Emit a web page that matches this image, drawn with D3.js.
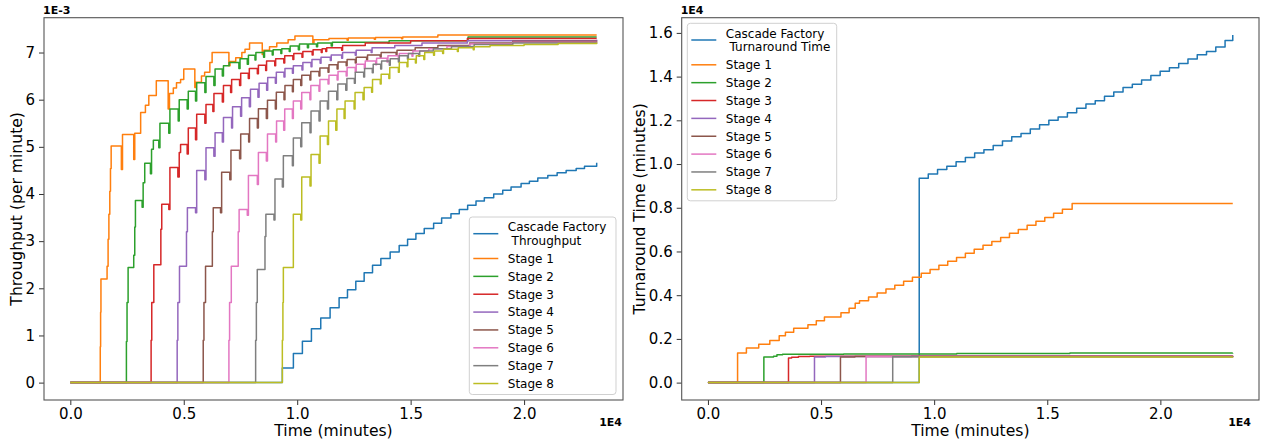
<!DOCTYPE html>
<html>
<head>
<meta charset="utf-8">
<script src="https://cdn.jsdelivr.net/npm/d3@7/dist/d3.min.js"></script>
<style>
  body { margin: 0; background: #fff; }
  svg { font-family: "DejaVu Sans", sans-serif; }
</style>
</head>
<body>
<svg id="chart" width="1263" height="444"></svg>
<script>
// Throughput values are in units of 1E-3 jobs per minute, time in minutes.
const cascadeThroughput = [[0,0],[9345,0.31],[9832,0.62],[10229,0.88],[10627,1.14],[11038,1.37],[11450,1.59],[11847,1.8],[12216,1.97],[12583,2.15],[12951,2.33],[13320,2.49],[13687,2.63],[14097,2.77],[14495,2.91],[14865,3.04],[15232,3.16],[15599,3.27],[16013,3.38],[16366,3.49],[16777,3.58],[17144,3.67],[17513,3.76],[17881,3.85],[18248,3.92],[18661,4.0],[19059,4.08],[19426,4.15],[19868,4.22],[20234,4.27],[20605,4.34],[21046,4.39],[21457,4.45],[21854,4.5],[22296,4.54],[22663,4.59],[23200,4.66]];
const stage1Throughput = [[0,0],[1320,0.76],[1335,1.49],[1350,2.2],[1620,2.47],[1665,3.04],[1700,3.57],[1740,4.06],[1770,4.54],[1800,5.02],[2250,4.52],[2300,5.26],[2795,4.73],[2840,5.29],[3100,5.73],[3310,5.88],[3460,6.09],[3790,6.4],[4313,5.8],[4370,6.13],[4540,6.25],[4680,6.36],[4860,6.43],[5000,6.65],[5488,6.26],[5530,6.37],[5780,6.5],[5920,6.58],[6150,6.79],[6250,7.0],[6990,6.72],[7040,6.81],[7290,6.89],[7560,7.0],[7700,7.07],[7900,7.2],[8460,6.96],[8520,7.05],[8780,7.12],[9100,7.2],[9600,7.27],[9900,7.35],[10690,7.2],[10740,7.27],[11400,7.3],[12200,7.26],[12250,7.31],[13400,7.28],[13450,7.32],[14600,7.29],[14650,7.33],[16200,7.37],[23200,7.37]];
const stage2Throughput = [[0,0],[2472,0.87],[2500,1.7],[2547,2.44],[2795,2.7],[2840,3.3],[2870,3.86],[3165,3.72],[3210,4.24],[3280,4.65],[3532,4.43],[3580,4.95],[3660,5.14],[3900,4.98],[3950,5.5],[4340,5.29],[4390,5.8],[4755,5.55],[4800,6.0],[5150,5.8],[5200,6.18],[5519,5.97],[5570,6.36],[5930,6.15],[5980,6.49],[6327,6.3],[6380,6.65],[6700,6.5],[6750,6.72],[7000,6.79],[7430,6.66],[7480,6.87],[7800,6.75],[7850,6.94],[8140,6.84],[8180,7.0],[8520,6.9],[8560,7.03],[8900,6.95],[8940,7.06],[9280,6.98],[9320,7.08],[9650,7.02],[9690,7.14],[10050,7.06],[10100,7.18],[10450,7.1],[10500,7.18],[10850,7.12],[10900,7.2],[11500,7.14],[11550,7.22],[14000,7.2],[14050,7.25],[17530,7.33],[23200,7.33]];
const stage3Throughput = [[0,0],[3561,0.9],[3590,1.7],[3680,2.5],[3990,3.25],[4030,3.78],[4342,3.67],[4390,4.56],[4740,4.36],[4800,4.88],[4860,5.05],[5150,4.85],[5200,5.4],[5519,5.15],[5570,5.69],[5930,5.5],[5980,5.9],[6283,5.75],[6330,6.13],[6700,5.95],[6750,6.3],[7065,6.15],[7110,6.43],[7460,6.3],[7510,6.56],[7845,6.45],[7890,6.66],[8243,6.55],[8290,6.73],[8610,6.62],[8650,6.82],[9010,6.72],[9050,6.87],[9410,6.78],[9450,6.93],[9810,6.85],[9850,6.98],[10210,6.9],[10250,7.02],[10660,6.95],[10700,7.06],[11060,7.0],[11100,7.08],[11260,7.02],[11300,7.1],[11960,7.05],[12000,7.15],[13000,7.2],[15000,7.25],[17500,7.3],[23200,7.3]];
const stage4Throughput = [[0,0],[4710,0.9],[4740,1.7],[4812,2.47],[5120,3.2],[5160,3.71],[5519,3.6],[5570,4.5],[5930,4.3],[5980,4.98],[6327,4.8],[6380,5.3],[6700,5.1],[6750,5.62],[7108,5.4],[7150,5.85],[7505,5.65],[7550,6.04],[7890,5.85],[7940,6.22],[8270,6.05],[8320,6.35],[8653,6.2],[8700,6.47],[9037,6.35],[9080,6.58],[9418,6.48],[9460,6.66],[9790,6.56],[9830,6.72],[10210,6.63],[10250,6.79],[10610,6.7],[10650,6.85],[11010,6.77],[11050,6.9],[11460,6.83],[11500,6.95],[11960,6.88],[12000,7.0],[12560,6.94],[12600,7.05],[13260,7.0],[13300,7.1],[14300,7.15],[15500,7.2],[17500,7.25],[23200,7.27]];
const stage5Throughput = [[0,0],[5858,0.9],[5890,1.7],[5960,2.47],[6260,3.2],[6300,3.71],[6620,3.6],[6670,4.46],[7030,4.3],[7080,4.93],[7460,4.75],[7510,5.27],[7860,5.1],[7900,5.6],[8243,5.4],[8290,5.81],[8640,5.6],[8690,5.99],[9037,5.8],[9080,6.16],[9418,6.0],[9460,6.3],[9788,6.17],[9830,6.43],[10155,6.3],[10200,6.52],[10560,6.42],[10600,6.6],[10960,6.5],[11000,6.67],[11360,6.58],[11400,6.74],[11760,6.65],[11800,6.8],[12160,6.72],[12200,6.85],[12560,6.78],[12600,6.9],[13060,6.84],[13100,6.95],[13660,6.9],[13700,7.0],[14360,6.96],[14400,7.05],[15200,7.1],[16200,7.15],[17600,7.2],[19500,7.24],[23200,7.25]];
const stage6Throughput = [[0,0],[6990,0.9],[7020,1.7],[7095,2.47],[7400,3.2],[7440,3.67],[7800,3.55],[7850,4.39],[8243,4.2],[8290,4.88],[8640,4.7],[8690,5.27],[9050,5.1],[9090,5.55],[9404,5.35],[9450,5.8],[9788,5.6],[9830,5.97],[10155,5.8],[10200,6.15],[10560,6.0],[10600,6.3],[10960,6.18],[11000,6.43],[11360,6.33],[11400,6.52],[11760,6.42],[11800,6.6],[12160,6.5],[12200,6.68],[12560,6.58],[12600,6.75],[12960,6.66],[13000,6.82],[13460,6.74],[13500,6.88],[13960,6.8],[14000,6.93],[14460,6.86],[14500,6.98],[15060,6.92],[15100,7.03],[15800,7.08],[16600,7.13],[17600,7.18],[19500,7.22],[23200,7.23]];
const stage7Throughput = [[0,0],[8168,0.9],[8200,1.7],[8240,2.4],[8580,3.1],[8620,3.57],[8976,3.45],[9020,4.32],[9345,4.15],[9390,4.81],[9788,4.6],[9830,5.19],[10155,5.0],[10200,5.51],[10565,5.3],[10610,5.76],[10962,5.55],[11010,5.97],[11333,5.8],[11380,6.18],[11744,6.0],[11790,6.33],[12141,6.2],[12190,6.45],[12520,6.35],[12560,6.58],[12930,6.48],[12970,6.66],[13310,6.57],[13350,6.75],[13680,6.65],[13720,6.82],[14060,6.73],[14100,6.87],[14460,6.8],[14500,6.93],[14860,6.86],[14900,6.98],[15360,6.92],[15400,7.03],[16000,7.08],[16800,7.13],[17800,7.17],[19500,7.2],[23200,7.21]];
const stage8Throughput = [[0,0],[9345,0.9],[9370,1.7],[9390,2.44],[9830,3.57],[10155,3.45],[10200,4.36],[10565,4.17],[10610,4.84],[10962,4.65],[11010,5.23],[11333,5.05],[11380,5.55],[11700,5.35],[11750,5.8],[12067,5.6],[12110,5.97],[12508,5.8],[12550,6.15],[12900,6.0],[12950,6.26],[13280,6.16],[13320,6.43],[13660,6.33],[13700,6.54],[14040,6.45],[14080,6.68],[14460,6.58],[14500,6.79],[14840,6.7],[14880,6.86],[15210,6.78],[15250,6.93],[15580,6.85],[15620,7.0],[16010,6.94],[16050,7.03],[16410,6.98],[16450,7.07],[17060,7.02],[17100,7.1],[17760,7.06],[17800,7.12],[18500,7.15],[20000,7.17],[21500,7.19],[23200,7.21]];

// Turnaround values are in units of 1E4 minutes.
const cascadeTurnaround = [[0,0],[9340,0.935],[9740,0.955],[10150,0.975],[10560,0.99],[10970,1.01],[11380,1.03],[11790,1.05],[12200,1.065],[12610,1.085],[13020,1.105],[13430,1.125],[13840,1.14],[14250,1.16],[14660,1.18],[15070,1.2],[15480,1.215],[15890,1.235],[16300,1.255],[16710,1.275],[17120,1.29],[17530,1.31],[17940,1.33],[18350,1.35],[18760,1.365],[19170,1.385],[19580,1.405],[19990,1.425],[20400,1.44],[20810,1.46],[21220,1.48],[21630,1.5],[22040,1.515],[22450,1.535],[22860,1.565],[23200,1.59]];
const stage1Turnaround = [[0,0],[1310,0.135],[1700,0.158],[2245,0.176],[2735,0.193],[3150,0.214],[3425,0.231],[3790,0.249],[4420,0.265],[4790,0.283],[5150,0.3],[5880,0.32],[6240,0.34],[6510,0.363],[6700,0.375],[7100,0.392],[7480,0.41],[7870,0.428],[8260,0.446],[8650,0.464],[9040,0.482],[9430,0.5],[9820,0.518],[10210,0.537],[10600,0.555],[10990,0.573],[11380,0.592],[11770,0.61],[12160,0.628],[12550,0.646],[12940,0.664],[13330,0.683],[13720,0.7],[14110,0.72],[14500,0.738],[14890,0.756],[15280,0.775],[15670,0.793],[16100,0.82],[23200,0.82]];
const stage2Turnaround = [[0,0],[2472,0.117],[2900,0.121],[3050,0.127],[3300,0.13],[6000,0.131],[11000,0.133],[16000,0.135],[23200,0.136]];
const stage3Turnaround = [[0,0],[3561,0.113],[3700,0.116],[4000,0.119],[4500,0.121],[9000,0.122],[23200,0.123]];
const stage4Turnaround = [[0,0],[4710,0.117],[5200,0.119],[9000,0.121],[23200,0.122]];
const stage5Turnaround = [[0,0],[5858,0.117],[6500,0.119],[23200,0.121]];
const stage6Turnaround = [[0,0],[6990,0.12],[23200,0.121]];
const stage7Turnaround = [[0,0],[8168,0.118],[23200,0.119]];
const stage8Turnaround = [[0,0],[9340,0.117],[23200,0.118]];

const throughputLabels = [["Cascade Factory", " Throughput"], "Stage 1", "Stage 2", "Stage 3", "Stage 4", "Stage 5", "Stage 6", "Stage 7", "Stage 8"];
const turnaroundLabels = [["Cascade Factory", " Turnaround Time"], "Stage 1", "Stage 2", "Stage 3", "Stage 4", "Stage 5", "Stage 6", "Stage 7", "Stage 8"];

const timeTicks = [0, 5000, 10000, 15000, 20000];
const timeTickLabels = ["0.0", "0.5", "1.0", "1.5", "2.0"];
const throughputTicks = [0, 1, 2, 3, 4, 5, 6, 7];
const throughputTickLabels = ["0", "1", "2", "3", "4", "5", "6", "7"];
const turnaroundTicks = [0, 0.2, 0.4, 0.6, 0.8, 1.0, 1.2, 1.4, 1.6];
const turnaroundTickLabels = ["0.0", "0.2", "0.4", "0.6", "0.8", "1.0", "1.2", "1.4", "1.6"];

// matplotlib tab10
const colors = ["#1f77b4", "#ff7f0e", "#2ca02c", "#d62728", "#9467bd", "#8c564b", "#e377c2", "#7f7f7f", "#bcbd22"];

const svg = d3.select("#chart");

function padded(extent) {
    const span = extent[1] - extent[0];
    return [extent[0] - span * 0.05, extent[1] + span * 0.05];
}

function drawPanel(p) {
    const g = svg.append("g");
    const all = p.series.flat();

    const x = d3.scaleLinear()
        .domain(padded(d3.extent(all, d => d[0])))
        .range([p.left, p.right]);
    const y = d3.scaleLinear()
        .domain(padded([0, d3.max(all, d => d[1])]))
        .range([p.bottom, p.top]);

    const line = d3.line()
        .curve(d3.curveStepAfter)
        .x(d => x(d[0]))
        .y(d => y(d[1]));

    // Series lines
    p.series.forEach((s, i) => {
        g.append("path")
            .datum(s)
            .attr("d", line)
            .attr("fill", "none")
            .attr("stroke", colors[i])
            .attr("stroke-width", 1.5)
            .attr("stroke-linejoin", "round");
    });

    // Axes
    const xAxis = g.append("g")
        .attr("transform", `translate(0,${p.bottom})`)
        .call(d3.axisBottom(x).tickValues(timeTicks)
            .tickFormat((d, i) => timeTickLabels[i]).tickSize(5).tickPadding(3));
    const yAxis = g.append("g")
        .attr("transform", `translate(${p.left},0)`)
        .call(d3.axisLeft(y).tickValues(p.yTicks)
            .tickFormat((d, i) => p.yTickLabels[i]).tickSize(5).tickPadding(4));
    [xAxis, yAxis].forEach(a => {
        a.select(".domain").remove();
        a.selectAll("line").attr("stroke", "#333");
        a.selectAll("text").attr("fill", "#000").style("font-size", "15px")
            .style("font-family", "DejaVu Sans");
    });

    // Frame
    g.append("rect")
        .attr("x", p.left).attr("y", p.top)
        .attr("width", p.right - p.left).attr("height", p.bottom - p.top)
        .attr("fill", "none").attr("stroke", "#555").attr("stroke-width", 1.1);

    // Axis labels
    g.append("text")
        .attr("x", (p.left + p.right) / 2).attr("y", 436)
        .attr("text-anchor", "middle").style("font-size", "15.6px")
        .text("Time (minutes)");
    g.append("text")
        .attr("transform", `translate(${p.yLabelX},${(p.top + p.bottom) / 2}) rotate(-90)`)
        .attr("text-anchor", "middle").style("font-size", "15.6px")
        .text(p.yLabel);

    // Offset labels
    g.append("text")
        .attr("x", p.left - 1).attr("y", 14)
        .style("font-size", "11px").style("font-weight", "bold")
        .text(p.yOffset);
    g.append("text")
        .attr("x", p.xOffsetX).attr("y", 426)
        .attr("text-anchor", "end")
        .style("font-size", "11px").style("font-weight", "bold")
        .text("1E4");

    // Legend
    const lg = g.append("g").attr("transform", `translate(${p.legendX},${p.legendY})`);
    lg.append("rect")
        .attr("width", p.legendW).attr("height", 177.5)
        .attr("rx", 3)
        .attr("fill", "#fff").attr("fill-opacity", 0.8)
        .attr("stroke", "#d0d0d0").attr("stroke-width", 1);

    p.labels.forEach((lab, i) => {
        const lines = Array.isArray(lab) ? lab : [lab];
        const cy = i === 0 ? 16.7 : 41.5 + (i - 1) * 17.86;
        lg.append("line")
            .attr("x1", 4).attr("x2", 29)
            .attr("y1", cy).attr("y2", cy)
            .attr("stroke", colors[i]).attr("stroke-width", 1.5);
        lines.forEach((t, j) => {
            const ty = i === 0 ? 10 + j * 13.3 : cy;
            lg.append("text")
                .attr("x", 38.5).attr("y", ty).attr("dy", "0.36em")
                .style("font-size", "12px").style("white-space", "pre")
                .text(t);
        });
    });
}

drawPanel({
    series: [cascadeThroughput, stage1Throughput, stage2Throughput, stage3Throughput, stage4Throughput,
        stage5Throughput, stage6Throughput, stage7Throughput, stage8Throughput],
    left: 44, right: 623, top: 17.7, bottom: 400,
    yTicks: throughputTicks, yTickLabels: throughputTickLabels,
    yLabel: "Throughput (per minute)", yLabelX: 22,
    yOffset: "1E-3", xOffsetX: 622,
    labels: throughputLabels,
    legendX: 469.3, legendY: 217, legendW: 146.7
});

drawPanel({
    series: [cascadeTurnaround, stage1Turnaround, stage2Turnaround, stage3Turnaround, stage4Turnaround,
        stage5Turnaround, stage6Turnaround, stage7Turnaround, stage8Turnaround],
    left: 681.7, right: 1259, top: 17.7, bottom: 400,
    yTicks: turnaroundTicks, yTickLabels: turnaroundTickLabels,
    yLabel: "Turnaround Time (minutes)", yLabelX: 645,
    yOffset: "1E4", xOffsetX: 1251,
    labels: turnaroundLabels,
    legendX: 687.3, legendY: 23.3, legendW: 149.4
});
</script>
</body>
</html>
